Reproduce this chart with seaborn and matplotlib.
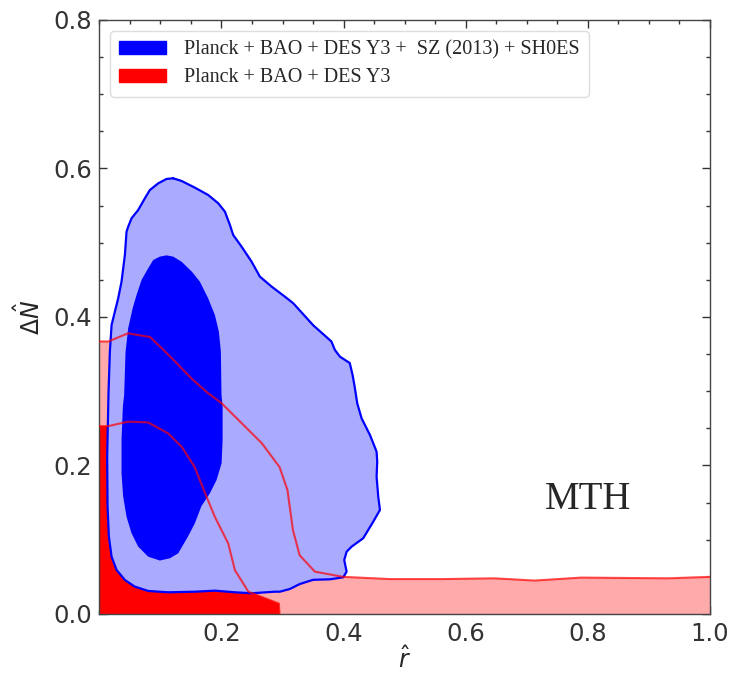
import matplotlib
matplotlib.use("Agg")
import matplotlib.pyplot as plt
import seaborn as sns
import pandas as pd
from matplotlib.patches import Patch
from matplotlib.ticker import MultipleLocator

# ---------------- data (contour boundaries) ----------------
blue_outer_r = [0.1209, 0.1100, 0.0964, 0.0827, 0.0745, 0.0636, 0.0527, 0.0472, 0.0445, 0.0418, 0.0363,
                0.0308, 0.0254, 0.0200, 0.0172, 0.0150, 0.0128, 0.0134, 0.0156, 0.0200, 0.0282,
                0.0418, 0.0581, 0.0799, 0.1127, 0.1564, 0.1892, 0.2219, 0.2493, 0.2875, 0.2957, 0.3120,
                0.3284, 0.3500, 0.3776, 0.3994, 0.4049, 0.4010, 0.4049, 0.4131, 0.4321, 0.4485, 0.4595,
                0.4567, 0.4540, 0.4550, 0.4540, 0.4431, 0.4294, 0.4223, 0.4185, 0.4147, 0.4100, 0.3939,
                0.3857, 0.3800, 0.3500, 0.3175, 0.3038, 0.2821, 0.2629, 0.2493, 0.2329, 0.2192, 0.2138,
                0.2056, 0.1946, 0.1782, 0.1564, 0.1346, 0.1209]
blue_outer_n = [0.5868, 0.5859, 0.5800, 0.5710, 0.5598, 0.5441, 0.5329, 0.5216, 0.5149, 0.4835, 0.4476,
                0.4251, 0.4072, 0.3892, 0.3533, 0.2980, 0.2119, 0.1450, 0.1041, 0.0772, 0.0593,
                0.0458, 0.0368, 0.0310, 0.0292, 0.0300, 0.0314, 0.0292, 0.0279, 0.0300, 0.0300, 0.0337,
                0.0404, 0.0460, 0.0467, 0.0494, 0.0570, 0.0727, 0.0839, 0.0907, 0.1020, 0.1243, 0.1401,
                0.1580, 0.1849, 0.2051, 0.2186, 0.2411, 0.2636, 0.2838, 0.3040, 0.3219, 0.3380, 0.3466,
                0.3556, 0.3670, 0.3890, 0.4185, 0.4274, 0.4409, 0.4543, 0.4745, 0.4947, 0.5104, 0.5239,
                0.5419, 0.5532, 0.5643, 0.5742, 0.5832, 0.5868]

blue_inner_r = [0.1100, 0.0991, 0.0882, 0.0799, 0.0691, 0.0609, 0.0546, 0.0472, 0.0429, 0.0406, 0.0385,
                0.0363, 0.0363, 0.0390, 0.0445, 0.0527, 0.0636, 0.0799, 0.0990, 0.1155, 0.1291, 0.1450,
                0.1564, 0.1670, 0.1810, 0.1920, 0.2002, 0.2018, 0.2018, 0.2000, 0.1990, 0.1957, 0.1892,
                0.1782, 0.1646, 0.1515, 0.1346, 0.1209, 0.1100]
blue_inner_n = [0.4830, 0.4813, 0.4768, 0.4655, 0.4498, 0.4296, 0.4120, 0.3848, 0.3533, 0.2950, 0.2792,
                0.2343, 0.1895, 0.1580, 0.1310, 0.1087, 0.0907, 0.0772, 0.0720, 0.0750, 0.0817, 0.1041,
                0.1221, 0.1450, 0.1625, 0.1805, 0.2030, 0.2343, 0.2792, 0.2950, 0.3533, 0.3802, 0.4027,
                0.4251, 0.4476, 0.4610, 0.4745, 0.4813, 0.4830]

red_outer_r = [0.0, 0.0145, 0.047, 0.083, 0.102, 0.124, 0.151, 0.177, 0.200, 0.233, 0.266, 0.295,
               0.308, 0.317, 0.328, 0.353, 0.399, 0.476, 0.560, 0.647, 0.713, 0.789, 0.931, 1.0]
red_outer_n = [0.367, 0.367, 0.378, 0.373, 0.358, 0.340, 0.317, 0.298, 0.284, 0.257, 0.230, 0.198,
               0.167, 0.113, 0.079, 0.057, 0.050, 0.047, 0.047, 0.048, 0.045, 0.049, 0.048, 0.050]

red_inner_r = [0.0, 0.0145, 0.047, 0.080, 0.113, 0.135, 0.156, 0.173, 0.189, 0.211, 0.222, 0.244,
               0.294, 0.295]
red_inner_n = [0.253, 0.253, 0.259, 0.258, 0.243, 0.225, 0.198, 0.163, 0.131, 0.095, 0.059, 0.030,
               0.014, 0.0]

label_blue = "Planck + BAO + DES Y3 +  SZ (2013) + SH0ES"
label_red = "Planck + BAO + DES Y3"
model_label = "MTH"
x_ticks = [0.2, 0.4, 0.6, 0.8, 1.0]
y_ticks = [0.0, 0.2, 0.4, 0.6, 0.8]

# ---------------- style ----------------
sns.set_style("ticks")
plt.rcParams.update({
    "font.family": ["DejaVu Sans"],
    "xtick.direction": "in", "ytick.direction": "in",
    "xtick.top": True, "ytick.right": True,
    "xtick.major.size": 6, "ytick.major.size": 6,
    "xtick.minor.size": 3, "ytick.minor.size": 3,
    "xtick.color": "#333333", "ytick.color": "#333333",
    "axes.edgecolor": "#444444",
})

fig = plt.figure(figsize=(7.36, 6.73), dpi=100)
ax = fig.add_axes([0.135, 0.0877, 0.8297, 0.8826])

light_blue = "#aaaaff"
light_red = "#ffaaaa"

# red fills (closed down to the axis)
ax.fill(red_outer_r + [1.0, 0.0], red_outer_n + [0.0, 0.0], color=light_red, lw=0, zorder=1)
ax.fill(red_inner_r + [0.0], red_inner_n + [0.0], color="red", lw=0, zorder=2)

# blue fills
ax.fill(blue_outer_r, blue_outer_n, facecolor=light_blue, edgecolor="none", zorder=3)
ax.fill(blue_inner_r, blue_inner_n, facecolor="blue", edgecolor="none", zorder=4)

# contour lines
df_bo = pd.DataFrame({"r": blue_outer_r, "n": blue_outer_n})
sns.lineplot(data=df_bo, x="r", y="n", sort=False, estimator=None, color="blue", lw=1.6, ax=ax, zorder=5)
df_ro = pd.DataFrame({"r": red_outer_r, "n": red_outer_n})
df_ri = pd.DataFrame({"r": red_inner_r, "n": red_inner_n})
sns.lineplot(data=df_ro, x="r", y="n", sort=False, estimator=None, color="red", alpha=0.7, lw=1.5, ax=ax, zorder=6)
sns.lineplot(data=df_ri, x="r", y="n", sort=False, estimator=None, color="red", alpha=0.7, lw=1.5, ax=ax, zorder=6)

ax.set_xlim(0, 1.0)
ax.set_ylim(0, 0.8)
ax.set_xticks(x_ticks)
ax.set_yticks(y_ticks)
ax.set_xticklabels([f"{t:.1f}" for t in x_ticks])
ax.set_yticklabels([f"{t:.1f}" for t in y_ticks])
ax.xaxis.set_minor_locator(MultipleLocator(0.05))
ax.yaxis.set_minor_locator(MultipleLocator(0.05))
ax.tick_params(labelsize=17.5, which="both", width=1.0)
ax.tick_params(axis="y", pad=5)
ax.tick_params(axis="x", pad=6)
for s in ax.spines.values():
    s.set_linewidth(1.0)

ax.set_xlabel(r"$\hat{r}$", fontsize=17, labelpad=0)
ax.set_ylabel(r"$\Delta\hat{N}$", fontsize=17, labelpad=6)

ax.text(0.80, 0.154, model_label, fontsize=28, family=["Liberation Serif"],
        ha="center", va="center", zorder=7)

handles = [Patch(facecolor="blue", edgecolor="blue", label=label_blue),
           Patch(facecolor="red", edgecolor="red", label=label_red)]
leg = ax.legend(handles=handles, loc="upper left", prop={"family": "Liberation Serif", "size": 14.5},
                handlelength=2.3, handleheight=0.65, labelspacing=0.45, borderaxespad=0.55,
                handletextpad=0.9, borderpad=0.45,
                fancybox=True, framealpha=1.0, edgecolor="#dddddd")
leg.set_zorder(10)

fig.savefig("out.png", dpi=100)
